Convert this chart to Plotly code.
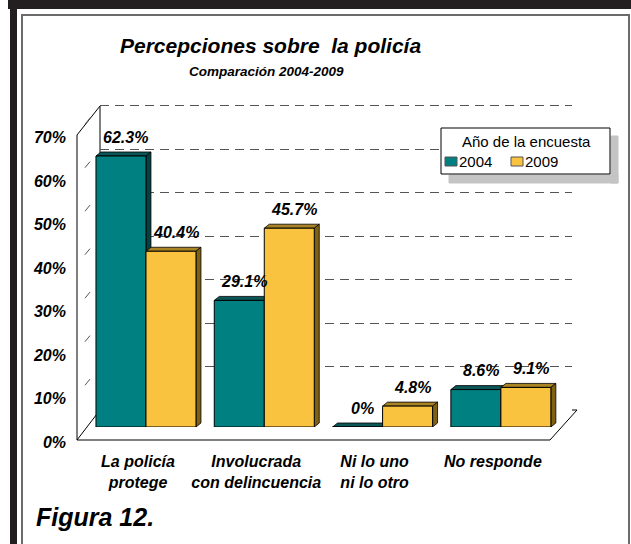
import plotly.graph_objects as go

# data
categories = ["La policía<br>protege", "Involucrada<br>con delincuencia",
              "Ni lo uno<br>ni lo otro", "No responde"]
years = ["2004", "2009"]
values_2004 = [62.3, 29.1, 0, 8.6]
values_2009 = [40.4, 45.7, 4.8, 9.1]
y_ticks = [0, 10, 20, 30, 40, 50, 60, 70]

W, H = 631, 544


def px(x):
    return x / W


def py(y):
    return 1 - y / H


TEAL = dict(front="#008080", top="#0b5656", side="#034242")
GOLD = dict(front="#f9c33f", top="#a98424", side="#7f6114")
FONT = "Liberation Sans, Arial, sans-serif"

bar_w = 0.4227
dx, dy = 0.042, 0.92   # 3D depth of the bars, in axis units

fig = go.Figure()
shapes = []
annotations = []
x_pos = list(range(len(categories)))


def label(x, y, text, size, xanchor="center", bold=True):
    return dict(x=px(x), y=py(y), xref="paper", yref="paper", showarrow=False,
                xanchor=xanchor, yanchor="middle", text=text,
                font=dict(family=FONT, size=size, color="black",
                          weight="bold" if bold else "normal",
                          style="italic" if bold else "normal"))


for name, vals, off, col in [(years[0], values_2004, -bar_w, TEAL),
                             (years[1], values_2009, 0.0, GOLD)]:
    fig.add_trace(go.Bar(
        x=x_pos, y=vals, name=name, offset=off, width=bar_w,
        marker=dict(color=col["front"], line=dict(color="black", width=1)),
        xaxis="x2", yaxis="y2", hoverinfo="skip"
    ))
    for i, v in zip(x_pos, vals):
        L = i + off
        R = L + bar_w
        # top face
        shapes.append(dict(
            type="path", xref="x2", yref="y2", layer="between",
            path=f"M{L},{v} L{L+dx},{v+dy} L{R+dx},{v+dy} L{R},{v} Z",
            fillcolor=col["top"], line=dict(color="black", width=0.8)))
        # side face
        shapes.append(dict(
            type="path", xref="x2", yref="y2", layer="between",
            path=f"M{R},0 L{R+dx},{dy} L{R+dx},{v+dy} L{R},{v} Z",
            fillcolor=col["side"], line=dict(color="black", width=0.8)))
        annotations.append(dict(
            x=L + bar_w / 2, y=v, xref="x2", yref="y2",
            xanchor="center", yanchor="middle",
            text=f"{v:g}%", showarrow=False, xshift=5, yshift=19,
            font=dict(family=FONT, size=16, color="black",
                      weight="bold", style="italic")))

# side wall and floor outline
for x0, y0, x1, y1 in [(77, 440, 77, 135), (77, 135, 100, 106),
                       (100, 106, 100, 410), (77, 440, 550, 440),
                       (550, 440, 577, 410), (77, 440, 100, 410),
                       (572, 410, 577, 410)]:
    shapes.append(dict(type="line", xref="paper", yref="paper", layer="below",
                       x0=px(x0), y0=py(y0), x1=px(x1), y1=py(y1),
                       line=dict(color="black", width=1)))
# short dashes of the side-wall gridlines
for t in y_ticks[1:]:
    shapes.append(dict(type="line", xref="paper", yref="y", layer="below",
                       x0=px(85), y0=t - 4.3, x1=px(90), y1=t - 2.9,
                       line=dict(color="#555555", width=1)))

# legend shadow: two gray strips right of and below the box
shapes += [
    dict(type="rect", xref="paper", yref="paper", layer="above",
         x0=px(611), y0=py(183), x1=px(618), y1=py(136),
         fillcolor="#c4c4c4", opacity=1, line=dict(color="#c4c4c4", width=1)),
    dict(type="rect", xref="paper", yref="paper", layer="above",
         x0=px(449), y0=py(183), x1=px(618), y1=py(175),
         fillcolor="#c4c4c4", opacity=1, line=dict(color="#c4c4c4", width=1)),
    dict(type="rect", xref="paper", yref="paper", layer="above",
         x0=px(441), y0=py(174), x1=px(610), y1=py(128),
         fillcolor="white", line=dict(color="black", width=1)),
]
legend_items = [(years[0], TEAL["front"], 445), (years[1], GOLD["front"], 511)]
for name, color, x_left in legend_items:
    shapes.append(dict(type="rect", xref="paper", yref="paper", layer="above",
                       x0=px(x_left), y0=py(166), x1=px(x_left + 12), y1=py(157),
                       fillcolor=color, line=dict(color="#555555", width=1)))
    annotations.append(label(x_left + 12, 161.5, name, 15, "left", bold=False))
annotations.append(label(526, 141, "Año de la encuesta", 15, bold=False))

# outer frame
shapes += [
    dict(type="rect", xref="paper", yref="paper", x0=px(8), x1=1,
         y0=py(9), y1=1, fillcolor="#231f20", line=dict(width=0)),
    dict(type="rect", xref="paper", yref="paper", x0=px(10), x1=px(17),
         y0=0, y1=1, fillcolor="#231f20", line=dict(width=0)),
    dict(type="path", xref="paper", yref="paper",
         path=f"M{px(22)},0 L{px(22)},{py(15)} L{px(629)},{py(15)} L{px(629)},0",
         line=dict(color="#6b6b6b", width=2)),
]

annotations += [
    label(270, 45, "Percepciones sobre\u00a0 la policía", 21),
    label(266, 72, "Comparación 2004-2009", 13.5),
    label(34, 517, "Figura 12.", 25, "left"),
]

tick_font = dict(family=FONT, size=16, color="black", weight="bold", style="italic")

fig.update_layout(
    width=W, height=H,
    margin=dict(l=0, r=0, t=0, b=0, autoexpand=False),
    paper_bgcolor="white",
    plot_bgcolor="rgba(0,0,0,0)",
    barmode="overlay",
    showlegend=False,
    # back wall with the dashed gridlines
    xaxis=dict(domain=[px(100), px(572)], range=[0, 1], visible=False,
               automargin=False),
    yaxis=dict(domain=[py(410), py(83.75)], range=[0, 75], tickvals=y_ticks,
               showticklabels=False, showgrid=True, gridcolor="#555555",
               gridwidth=1, griddash="9px,6px", zeroline=False, anchor="x",
               automargin=False),
    # front: bars and axis labels
    xaxis2=dict(domain=[px(75), px(589.6)], range=[-0.6, 3.75], anchor="y2",
                tickvals=x_pos, ticktext=categories, tickfont=tick_font,
                ticklabelshift=-8, ticklabelstandoff=23, showgrid=False,
                zeroline=False, showline=False, ticks="", automargin=False),
    yaxis2=dict(domain=[py(427), py(100.75)], range=[0, 75], anchor="x2",
                tickvals=y_ticks, ticktext=[f"{t}%" for t in y_ticks],
                tickfont=tick_font, ticklabelshift=15, ticklabelstandoff=8,
                showgrid=False, zeroline=False, showline=False, ticks="",
                automargin=False),
    shapes=shapes,
    annotations=annotations,
)

fig.write_html("out.html", config={"displayModeBar": False},
               post_script="document.body.style.margin='0';")
